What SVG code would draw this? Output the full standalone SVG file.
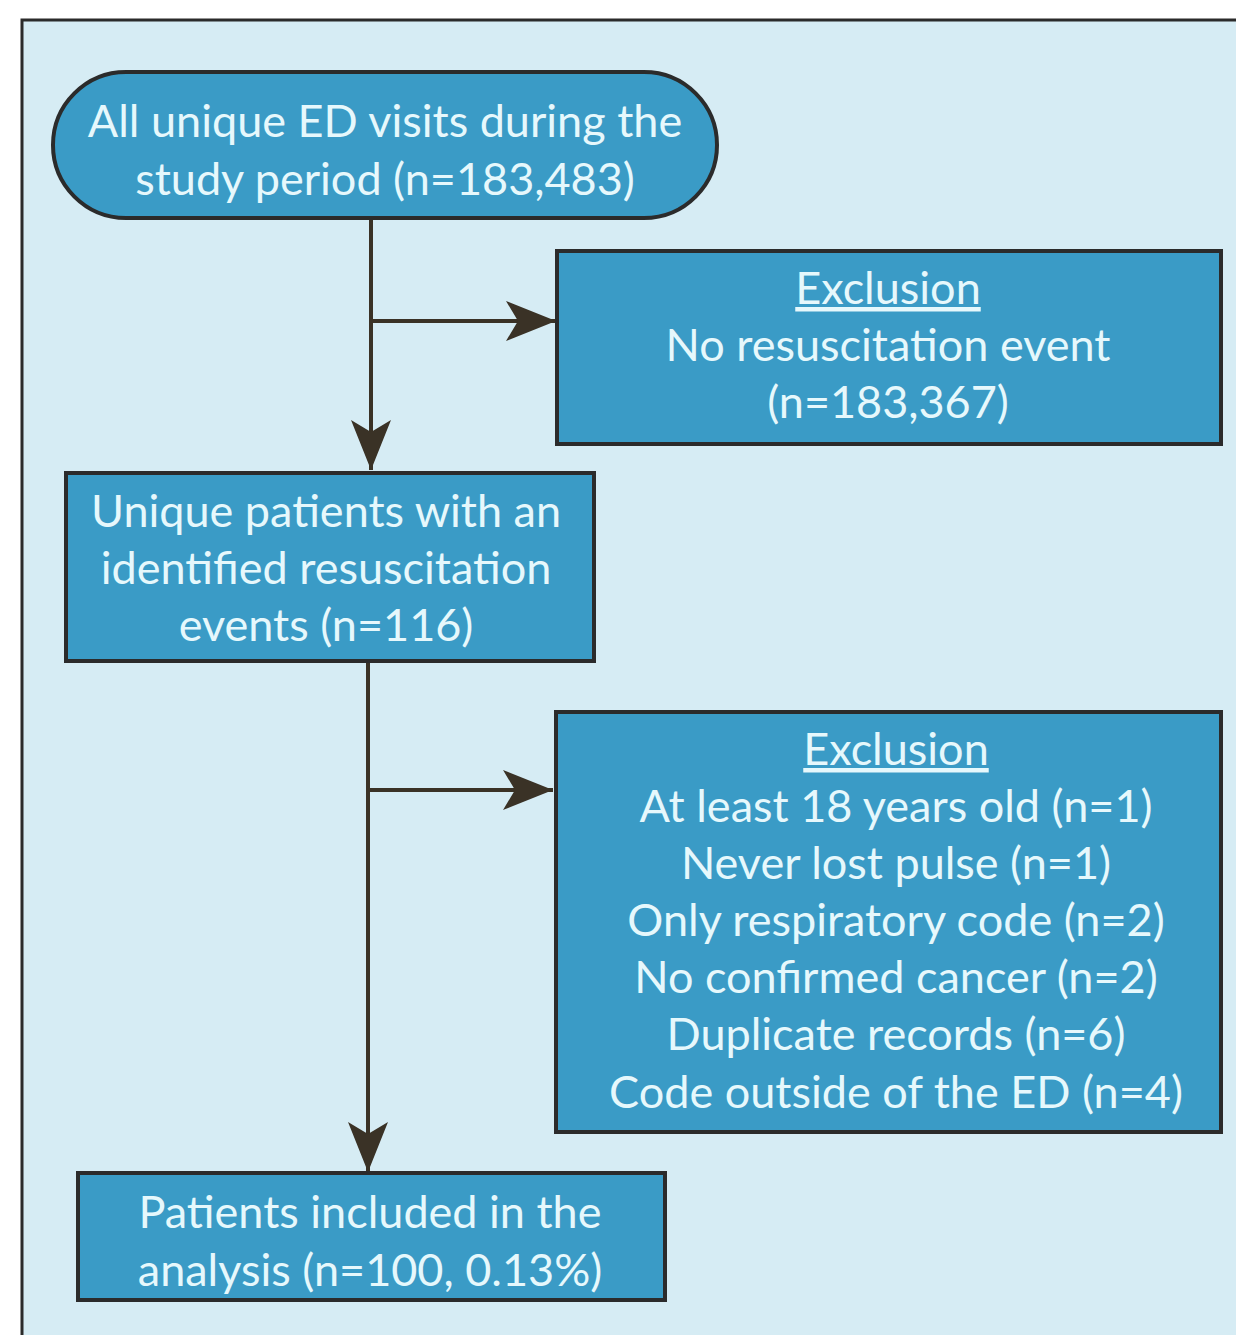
<svg xmlns="http://www.w3.org/2000/svg" width="1236" height="1335" viewBox="0 0 1236 1335">
<style>
.node{fill:#3a9bc6;stroke:#2b2b2b;stroke-width:4}
.t{font-family:Lato,"Liberation Sans",sans-serif;font-size:45px;fill:#e6f8fc;text-anchor:middle}
.u{text-decoration:underline}
.c{stroke:#3a3226;stroke-width:4;fill:none}
</style>
<defs>
<marker id="ah" viewBox="0 0 50 40" refX="50" refY="20" markerWidth="50" markerHeight="40" markerUnits="userSpaceOnUse" orient="auto">
<path d="M0,0 L50,20 L0,40 L12,20 Z" fill="#3a3226"/>
</marker>
</defs>
<rect x="0" y="0" width="1236" height="1335" fill="#ffffff"/>
<rect x="22" y="20" width="1240" height="1340" fill="#d6ecf4" stroke="#2b2b2b" stroke-width="3"/>
<g id="connectors">
<path class="c" d="M371,218 V470" marker-end="url(#ah)"/>
<path class="c" d="M371,321 H556" marker-end="url(#ah)"/>
<path class="c" d="M368,661 V1172" marker-end="url(#ah)"/>
<path class="c" d="M368,790 H553" marker-end="url(#ah)"/>
</g>
<g id="n1">
<rect class="node" x="53" y="72" width="664" height="146" rx="73" ry="73"/>
<text class="t" x="385" y="137">All unique ED visits during the</text>
<text class="t" x="385" y="195">study period (n=183,483)</text>
</g>
<g id="ex1">
<rect class="node" x="557" y="251" width="664" height="193"/>
<text class="t u" x="888" y="304">Exclusion</text>
<text class="t" x="888" y="361">No resuscitation event</text>
<text class="t" x="888" y="418">(n=183,367)</text>
</g>
<g id="n2">
<rect class="node" x="66" y="473" width="528" height="188"/>
<text class="t" x="326" y="527">Unique patients with an</text>
<text class="t" x="326" y="584">identified resuscitation</text>
<text class="t" x="326" y="641">events (n=116)</text>
</g>
<g id="ex2">
<rect class="node" x="556" y="712" width="665" height="420"/>
<text class="t u" x="896" y="765">Exclusion</text>
<text class="t" x="896" y="822">At least 18 years old (n=1)</text>
<text class="t" x="896" y="879">Never lost pulse (n=1)</text>
<text class="t" x="896" y="936">Only respiratory code (n=2)</text>
<text class="t" x="896" y="993">No confirmed cancer (n=2)</text>
<text class="t" x="896" y="1050">Duplicate records (n=6)</text>
<text class="t" x="896" y="1108">Code outside of the ED (n=4)</text>
</g>
<g id="n3">
<rect class="node" x="78" y="1173" width="587" height="127"/>
<text class="t" x="370" y="1228">Patients included in the</text>
<text class="t" x="370" y="1286">analysis (n=100, 0.13%)</text>
</g>
</svg>
